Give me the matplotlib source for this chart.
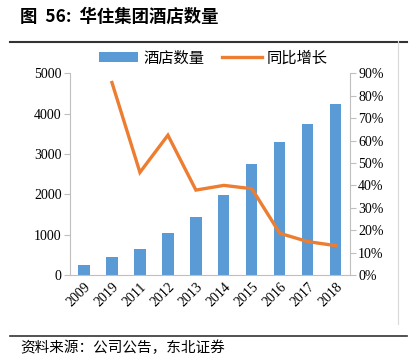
import matplotlib.pyplot as plt
import matplotlib.ticker as ticker
from matplotlib.lines import Line2D
import numpy as np

plt.rcParams['font.family'] = ['Liberation Serif', 'Noto Sans CJK SC']

years = ['2009', '2019', '2011', '2012', '2013', '2014', '2015', '2016', '2017', '2018']
hotels = [240, 455, 645, 1050, 1438, 1992, 2760, 3289, 3752, 4248]
growth = [None, 85.9, 45.8, 62.4, 37.9, 40.0, 38.5, 18.6, 14.9, 13.1]

blue = '#5B9BD5'
orange = '#ED7D31'
grey = '#BFBFBF'
cjk = ['Noto Sans CJK SC', 'DejaVu Sans']

fig = plt.figure(figsize=(4.14, 3.56), dpi=100)
ax = fig.add_axes([0.169, 0.2275, 0.676, 0.5665])
ax2 = ax.twinx()

x = np.arange(len(years))
ax.bar(x, hotels, width=0.4, color=blue, label='酒店数量', zorder=2)
gx = [i for i, g in zip(x, growth) if g is not None]
gy = [g for g in growth if g is not None]
ax2.plot(gx, gy, color=orange, lw=2.4, label='同比增长', solid_joinstyle='miter')

ax.set_xlim(-0.5, len(years) - 0.5)
ax.set_ylim(0, 5000)
ax.set_yticks(range(0, 5001, 1000))
ax2.set_ylim(0, 90)
ax2.set_yticks(range(0, 91, 10))
ax2.yaxis.set_major_formatter(ticker.FuncFormatter(lambda v, p: '%d%%' % v))

ax.set_xticks(x)
ax.set_xticklabels(years, rotation=45, ha='right', rotation_mode='anchor', fontsize=10)
ax.tick_params(axis='x', length=0, pad=4)
ax.tick_params(axis='y', labelsize=10, color=grey, length=4, pad=2)
ax2.tick_params(axis='y', labelsize=10, color=grey, length=4, pad=2)

for a in (ax, ax2):
    for s in a.spines.values():
        s.set_visible(False)
ax.spines['left'].set_visible(True)
ax.spines['left'].set_color(grey)
ax.spines['bottom'].set_visible(True)
ax.spines['bottom'].set_color(grey)
ax2.spines['right'].set_visible(True)
ax2.spines['right'].set_color(grey)

h1, l1 = ax.get_legend_handles_labels()
h2, l2 = ax2.get_legend_handles_labels()
fig.legend(h1 + h2, l1 + l2, loc='center', bbox_to_anchor=(0.515, 0.837), ncol=2,
           frameon=False, prop={'family': cjk, 'size': 11}, handlelength=2.6,
           handleheight=0.6, columnspacing=1.2, handletextpad=0.3)

fig.text(0.048, 0.952, '图  56:  华住集团酒店数量', fontsize=12.5, fontweight='bold',
         family=cjk, va='center')
fig.add_artist(Line2D([0.024, 0.983], [0.882, 0.882], color='#333333', lw=1.5))
fig.add_artist(Line2D([0.024, 0.983], [0.056, 0.056], color='#333333', lw=1.2))
fig.add_artist(Line2D([0.962, 0.962], [0.09, 0.885], color='#D9D9D9', lw=0.8))
fig.text(0.048, 0.022, '资料来源：公司公告，东北证券', fontsize=10.5, family=cjk, va='center')

fig.savefig('out.png', dpi=100)
